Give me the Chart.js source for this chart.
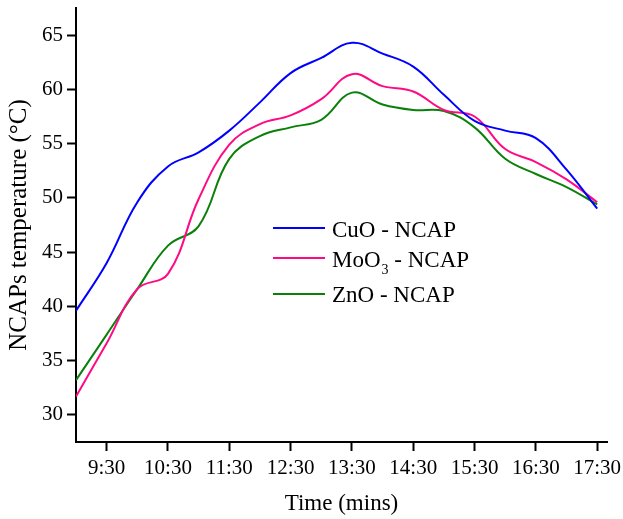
<!DOCTYPE html>
<html>
<head>
<meta charset="utf-8">
<script src="https://cdn.jsdelivr.net/npm/chart.js@4.4.1/dist/chart.umd.min.js"></script>
<style>
    html, body { margin: 0; padding: 0; background: #ffffff; }
    #wrap { width: 623px; height: 519px; }
</style>
</head>
<body>
<div id="wrap"><canvas id="chart" width="623" height="519"></canvas></div>
<script>
// time in hours (9 = 9:00), one reading every 30 minutes
const times = [9, 9.5, 10, 10.5, 11, 11.5, 12, 12.5, 13, 13.5, 14, 14.5, 15, 15.5, 16, 16.5, 17, 17.5];
const cuo  = [39.6, 44.0, 49.6, 52.9, 54.2, 56.2, 58.8, 61.5, 62.9, 64.3, 63.3, 62.1, 59.5, 57.1, 56.2, 55.5, 52.6, 49.0];
const moo3 = [31.7, 36.6, 41.6, 43.0, 49.9, 54.9, 56.8, 57.6, 59.1, 61.4, 60.3, 59.8, 58.1, 57.5, 54.5, 53.3, 51.7, 49.6];
const zno  = [33.2, 37.4, 41.6, 45.6, 47.4, 53.6, 55.7, 56.5, 57.2, 59.7, 58.6, 58.1, 58.0, 56.5, 53.6, 52.2, 51.0, 49.4];

const seriesNames = ['CuO - NCAP', 'MoO3 - NCAP', 'ZnO - NCAP'];
const seriesColors = ['#0000FF', '#FF0A85', '#0A800A'];
const xTickLabels = ['9:30', '10:30', '11:30', '12:30', '13:30', '14:30', '15:30', '16:30', '17:30'];

const FONT = '"Liberation Serif", "Times New Roman", serif';

function toPoints(values) {
    return values.map((v, i) => ({ x: times[i], y: v }));
}

// which ticks get a label (and a long tick mark)
function isMajorX(v) { return Math.abs(v - Math.floor(v) - 0.5) < 1e-6; }
function isMajorY(v) { return Math.abs(v % 5) < 1e-6; }

// short minor ticks on both axes
const minorTicks = {
    id: 'minorTicks',
    afterDraw(chart) {
        const ctx = chart.ctx;
        const xs = chart.scales.x, ys = chart.scales.y;
        ctx.save();
        ctx.strokeStyle = '#000';
        ctx.lineWidth = 2;
        xs.ticks.forEach(t => {
            if (isMajorX(t.value)) return;
            const px = Math.round(xs.getPixelForValue(t.value));
            ctx.beginPath();
            ctx.moveTo(px, xs.top);
            ctx.lineTo(px, xs.top + 5);
            ctx.stroke();
        });
        ys.ticks.forEach(t => {
            if (isMajorY(t.value)) return;
            const py = Math.round(ys.getPixelForValue(t.value));
            ctx.beginPath();
            ctx.moveTo(ys.right, py);
            ctx.lineTo(ys.right - 5, py);
            ctx.stroke();
        });
        ctx.restore();
    }
};

// legend inside the plot, with subscript digits (MoO3)
const innerLegend = {
    id: 'innerLegend',
    afterDraw(chart) {
        const ctx = chart.ctx;
        const lineY = [228, 258, 294];
        const baseY = [237, 267, 302];
        ctx.save();
        chart.data.datasets.forEach((ds, i) => {
            ctx.strokeStyle = ds.borderColor;
            ctx.lineWidth = 2;
            ctx.beginPath();
            ctx.moveTo(273, lineY[i]);
            ctx.lineTo(325, lineY[i]);
            ctx.stroke();

            let x = 332;
            ctx.fillStyle = '#000';
            ctx.textBaseline = 'alphabetic';
            ctx.textAlign = 'left';
            const parts = seriesNames[i].split(/(\d+)/);
            parts.forEach(p => {
                if (!p) return;
                if (/^\d+$/.test(p)) {
                    ctx.font = '14px ' + FONT;
                    ctx.fillText(p, x + 1, baseY[i] + 7);
                    x += ctx.measureText(p).width + 1;
                } else {
                    ctx.font = '23px ' + FONT;
                    ctx.fillText(p, x, baseY[i]);
                    x += ctx.measureText(p).width;
                }
            });
        });
        ctx.restore();
    }
};

const datasets = [cuo, moo3, zno].map((vals, i) => ({
    label: seriesNames[i],
    data: toPoints(vals),
    borderColor: seriesColors[i],
    backgroundColor: seriesColors[i],
    borderWidth: 2,
    pointRadius: 0,
    tension: 0.4,
    fill: false
}));

new Chart(document.getElementById('chart'), {
    type: 'line',
    data: { datasets: datasets },
    options: {
        responsive: false,
        animation: false,
        layout: { padding: { top: 8, right: 16, left: 0, bottom: 0 } },
        plugins: {
            legend: { display: false },
            tooltip: { enabled: false }
        },
        scales: {
            x: {
                type: 'linear',
                min: 9,
                max: 17.66,
                afterFit: s => { s.height = 77; s.paddingLeft = 0; s.paddingRight = 0; },
                border: { color: '#000', width: 2 },
                grid: {
                    drawOnChartArea: false,
                    drawTicks: true,
                    tickLength: 9,
                    tickWidth: 2,
                    tickColor: c => isMajorX(c.tick.value) ? '#000' : 'rgba(0,0,0,0)'
                },
                ticks: {
                    stepSize: 0.5,
                    includeBounds: false,
                    autoSkip: false,
                    maxRotation: 0,
                    padding: 5,
                    color: '#000',
                    font: { family: FONT, size: 21 },
                    callback: v => isMajorX(v) ? xTickLabels[Math.round(v - 9.5)] : null
                },
                title: {
                    display: true,
                    text: 'Time (mins)',
                    color: '#000',
                    font: { family: FONT, size: 23 },
                    padding: { top: 0, bottom: 1 }
                }
            },
            y: {
                min: 27.5,
                max: 67.5,
                afterFit: s => { s.width = 76; s.paddingTop = 0; s.paddingBottom = 0; },
                border: { color: '#000', width: 2 },
                grid: {
                    drawOnChartArea: false,
                    drawTicks: true,
                    tickLength: 9,
                    tickWidth: 2,
                    tickColor: c => isMajorY(c.tick.value) ? '#000' : 'rgba(0,0,0,0)'
                },
                ticks: {
                    stepSize: 2.5,
                    autoSkip: false,
                    padding: 4,
                    color: '#000',
                    font: { family: FONT, size: 21 },
                    callback: v => isMajorY(v) ? String(v) : null
                },
                title: {
                    display: true,
                    text: 'NCAPs temperature (°C)',
                    color: '#000',
                    font: { family: FONT, size: 25 },
                    padding: { top: 4, bottom: 0 }
                }
            }
        }
    },
    plugins: [minorTicks, innerLegend]
});
</script>
</body>
</html>
